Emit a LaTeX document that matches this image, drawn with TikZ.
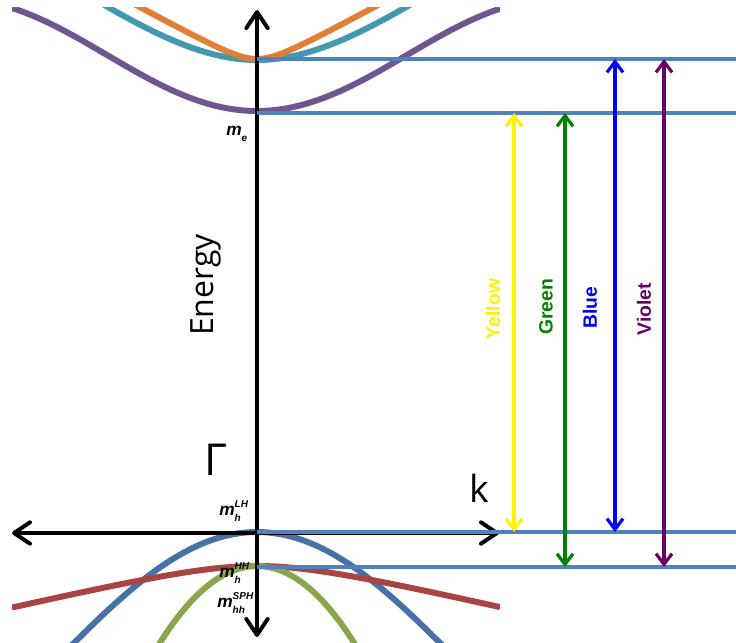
\documentclass[tikz,border=0pt]{standalone}
\usepackage{fontspec}
\setsansfont{Liberation Sans}
\newfontfamily\lightfont{Open Sans}
\usetikzlibrary{arrows.meta}

\definecolor{levelblue}{RGB}{79,129,189}
\definecolor{purpleband}{RGB}{112,86,145}
\definecolor{tealband}{RGB}{65,152,175}
\definecolor{orangeband}{RGB}{224,128,54}
\definecolor{blueband}{RGB}{70,114,168}
\definecolor{redband}{RGB}{168,68,66}
\definecolor{greenband}{RGB}{137,166,76}
\definecolor{greenline}{RGB}{0,128,0}
\definecolor{violetline}{RGB}{102,0,102}

% effective mass label: m with superscript stacked over subscript
\newcommand{\effmass}[2]{m\raisebox{-5pt}{\fontsize{7.5}{11}\selectfont\vbox{\hbox{#2}\hbox{#1}}}}

\begin{document}
\begin{tikzpicture}[
  x=0.75pt, y=-0.75pt,
  band/.style={line width=4.5pt},
  level/.style={levelblue, line width=2.6pt},
  axis/.style={line width=3pt, {Straight Barb[length=12pt,width=16pt,round]}-{Straight Barb[length=12pt,width=16pt,round]}},
  transition/.style={line width=2.4pt, {Straight Barb[length=8pt,width=12pt]}-{Straight Barb[length=8pt,width=12pt]}},
  colorlabel/.style={rotate=90, font=\sffamily\bfseries\fontsize{14.5}{17}\selectfont},
  masslabel/.style={anchor=base west, inner sep=0pt, font=\sffamily\bfseries\itshape\fontsize{13}{15}\selectfont},
]
  \useasboundingbox (0,0) rectangle (736,643);

  % bands
  \begin{scope}
    \clip (12,7) rectangle (500,643);
    \draw[band, purpleband] plot[domain=12:500, samples=120] (\x, {111-56*(1-cos(0.6*(\x-257)))});
    \draw[band, tealband] plot[domain=100:414, samples=120] (\x, {60-89*(sqrt(1+((\x-257)/120)^2)-1)});
    \draw[band, orangeband] plot[domain=130:384, samples=120] (\x, {59-13.7*(sqrt(1+((\x-257)/25)^2)-1)});
    \draw[band, blueband] plot[domain=60:455, samples=120] (\x, {532+128*(1-cos(0.45*(\x-257)))});
    \draw[band, redband] plot[domain=12:500, samples=120] (\x, {566+18.7*(sqrt(1+((\x-257)/80)^2)-1)});
    \draw[band, greenband] plot[domain=150:364, samples=120] (\x, {566+72*((\x-257)/94)^2});
  \end{scope}

  % axes
  \coordinate (etop) at (257,10);
  \coordinate (ebot) at (257,637);
  \coordinate (kleft) at (12,533);
  \coordinate (kright) at (499,533);
  \draw[axis] (kleft) -- (kright);
  \draw[axis] (ebot) -- (etop);

  % levels
  \coordinate (cb2) at (257,59);
  \coordinate (cb1) at (257,113);
  \coordinate (vb1) at (257,532);
  \coordinate (vb2) at (257,567);
  \coordinate (edge) at (736,0);
  \foreach \lvl in {cb2,cb1,vb1,vb2}
    \draw[level] (\lvl) -- (\lvl -| edge);

  % transitions
  \coordinate (xYellow) at (514,0);
  \coordinate (xGreen) at (565,0);
  \coordinate (xBlue) at (615,0);
  \coordinate (xViolet) at (664,0);
  \draw[transition, yellow] (cb1 -| xYellow) -- (vb1 -| xYellow);
  \draw[transition, greenline] (cb1 -| xGreen) -- (vb2 -| xGreen);
  \draw[transition, blue] (cb2 -| xBlue) -- (vb1 -| xBlue);
  \draw[transition, violetline] (cb2 -| xViolet) -- (vb2 -| xViolet);

  \node[colorlabel, yellow] (lblYellow) at (493,309) {Yellow};
  \node[colorlabel, greenline] (lblGreen) at (546,307) {Green};
  \node[colorlabel, blue] (lblBlue) at (590,308) {Blue};
  \node[colorlabel, violetline] (lblViolet) at (644,309) {Violet};

  % axis labels
  \node[rotate=90, font=\lightfont\fontsize{24}{28}\selectfont] (energy) at (206,285) {Energy};
  \node[font=\lightfont\fontsize{28}{32}\selectfont] (klabel) at (479,488) {k};
  \node[anchor=base west, inner sep=0pt, font=\lightfont\fontsize{33}{36}\selectfont] (gammalabel) at (204,475) {Γ};

  % effective masses
  \node[masslabel] (me) at (226,135) {\effmass{e}{}};
  \node[masslabel] (mlh) at (219,515) {\effmass{h}{LH}};
  \node[masslabel] (mhh) at (219,577) {\effmass{h}{HH}};
  \node[masslabel] (msph) at (217,607) {\effmass{hh}{SPH}};
\end{tikzpicture}
\end{document}
